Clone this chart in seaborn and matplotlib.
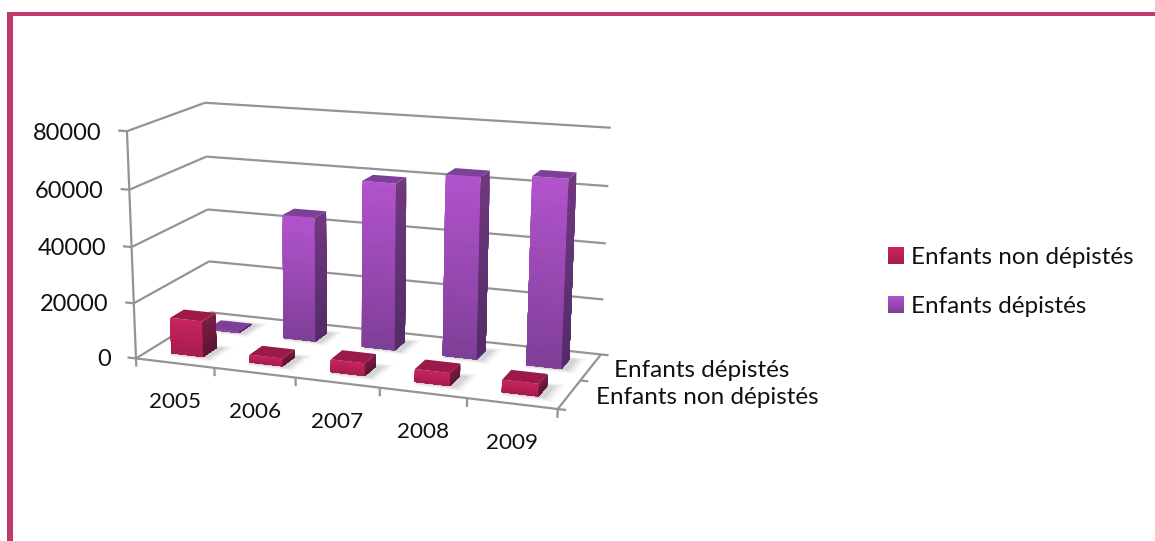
import numpy as np
import matplotlib
matplotlib.use("Agg")
import matplotlib.pyplot as plt
from matplotlib.patches import Patch, Rectangle
from matplotlib.legend_handler import HandlerBase
from mpl_toolkits.mplot3d.art3d import Poly3DCollection, Line3DCollection
import seaborn as sns

# ---- data ----
years = ["2005", "2006", "2007", "2008", "2009"]
series = ["Enfants non dépistés", "Enfants dépistés"]
non_depistes = [13000, 2800, 4500, 4500, 4300]
depistes = [500, 45500, 60000, 64500, 66000]
value_ticks = [0, 20000, 40000, 60000, 80000]

# ---- style ----
FRAME = "#BE3A6E"
GRID = "#949494"
TEXT = "#111111"
FONT = 17.5
TICK_FONT = 17.0
YEAR_FONT = 16.2
STYLES = {
    0: dict(front=("#C8245F", "#A81C4E"), side=("#7E1C45", "#5C1433"), top="#9C1A4A"),
    1: dict(front=("#B153CC", "#7F3F98"), side=("#70387F", "#542B68"), top="#7D3F97"),
}
BAR_W, BAR_D = 0.41, 0.36
BANDS = 30
LABEL_DX = [27, 23]

sns.set_theme(style="white")
plt.rcParams["font.family"] = ["Lato", "DejaVu Sans"]

W, H = 1155, 541
fig = plt.figure(figsize=(W / 100, H / 100), dpi=100, facecolor="white")
ax = fig.add_axes([0, 0, 1, 1], projection="3d", computed_zorder=False)
ax.set_axis_off()
ax.apply_aspect = lambda position=None: None

# ---- camera: projective map of the chart box, fitted to where its corners sit ----
box_x, box_y, box_z = len(years), len(series), value_ticks[-1]
anchors = [
    ((0, 0, 0), (136, 358)), ((0, 0, 1), (127, 131)),
    ((0, 1, 0), (211, 313)), ((0, 1, 1), (205, 103)),
    ((1, 1, 0), (602, 354)), ((1, 1, 1), (611, 128)),
    ((1, 0, 0), (559, 409)), ((0.2, 0, 0), (214, 368)),
    ((0.8, 0, 0), (467, 399)), ((1, 0.5, 0), (578, 380)),
    ((0, 0, 0.5), (132, 247)), ((0, 1, 0.5), (207, 209)),
]
rows = []
for (a, b, c), (u, v) in anchors:
    rows.append([a, b, c, 1, 0, 0, 0, 0, -u * a, -u * b, -u * c, -u])
    rows.append([0, 0, 0, 0, a, b, c, 1, -v * a, -v * b, -v * c, -v])
P = np.linalg.svd(np.array(rows, float))[2][-1].reshape(3, 4)
P = P @ np.diag([1 / box_x, 1 / box_y, 1 / box_z, 1])
if P[2, 3] < 0:
    P = -P
M = np.vstack([P[0], P[1], [0, 1 / box_y, 0, 0], P[2]])
ax.get_proj = lambda: M


def pixel(x, y, z):
    p = P @ np.array([x, y, z, 1.0])
    return p[0] / p[2], p[1] / p[2]


# ---- walls, floor, ticks ----
segments = []
for v in value_ticks:
    if v > 0:
        segments.append([(0, 0, v), (0, box_y, v)])
        segments.append([(0, box_y, v), (box_x, box_y, v)])
    segments.append([(-0.11, 0, v), (0, 0, v)])
segments += [
    [(0, box_y, 0), (box_x, box_y, 0)],
    [(0, 0, 0), (0, box_y, 0)],
    [(0, 0, 0), (0, 0, box_z)],
    [(0, 0, 0), (box_x, 0, 0)],
    [(box_x, 0, 0), (box_x, box_y, 0)],
]
segments += [[(i, 0, 0), (i, 0, -3000)] for i in range(box_x + 1)]
segments += [[(box_x, j, 0), (box_x + 0.09, j, 0)] for j in range(box_y + 1)]
grid = Line3DCollection(segments, colors=GRID, linewidths=1.6)
ax.add_collection3d(grid)
grid.set_zorder(1)


# ---- bars ----
def face(poly, color, z):
    pc = Poly3DCollection([poly], facecolors=[color], edgecolors="none", linewidths=0)
    ax.add_collection3d(pc)
    pc.set_zorder(z)


def draw_bar(i, j, value, zbase):
    st = STYLES[j]
    x0, x1 = i + 0.5 - BAR_W / 2, i + 0.5 + BAR_W / 2
    y0, y1 = j + 0.5 - BAR_D / 2, j + 0.5 + BAR_D / 2
    # soft shadow on the floor
    for grow, alpha in [(0.12, 0.05), (0.08, 0.08), (0.04, 0.12)]:
        sx0, sx1, sy0, sy1 = x0 + 0.02, x1 + grow + 0.05, y0 - grow, y1 + grow
        face([(sx0, sy0, 0), (sx1, sy0, 0), (sx1, sy1, 0), (sx0, sy1, 0)], (0.3, 0.3, 0.3, alpha), zbase)
    colors_front = sns.blend_palette(st["front"], BANDS)
    colors_side = sns.blend_palette(st["side"], BANDS)
    # each band runs from the floor up to its own level; painted tallest first, no seams
    for k in range(BANDS):
        z1 = value * (1 - k / BANDS)
        face([(x0, y0, 0), (x1, y0, 0), (x1, y0, z1), (x0, y0, z1)], colors_front[k], zbase + 1)
        face([(x1, y0, 0), (x1, y1, 0), (x1, y1, z1), (x1, y0, z1)], colors_side[k], zbase + 1)
    face([(x0, y0, value), (x1, y0, value), (x1, y1, value), (x0, y1, value)], st["top"], zbase + 1)


zb = 5
for j, vals in [(1, depistes), (0, non_depistes)]:
    for i, v in enumerate(vals):
        draw_bar(i, j, v, zb)
        zb += 2

# ---- labels (placed in pixels found through the camera) ----
for v in value_ticks:
    px, py = pixel(-0.11, 0, v)
    ax.text2D(px - 17, py + 2.5, str(v), ha="right", va="center", fontsize=TICK_FONT, color=TEXT,
              transform=ax.transData, zorder=50)
for i, y in enumerate(years):
    px, py = pixel(i + 0.5, 0, 0)
    ax.text2D(px, py + 39, y, ha="center", va="center", fontsize=YEAR_FONT, color=TEXT,
              transform=ax.transData, zorder=50)
for j, s in enumerate(series):
    px, py = pixel(box_x, j + 0.5, 0)
    ax.text2D(px + LABEL_DX[j], py + 3, s, ha="left", va="center", fontsize=FONT, color=TEXT,
              transform=ax.transData, zorder=50)


# ---- legend with gradient swatches ----
class GradientHandler(HandlerBase):
    def create_artists(self, legend, orig, xd, yd, width, height, fontsize, trans):
        cols = sns.blend_palette([orig.get_facecolor()[:3], orig.get_edgecolor()[:3]], 16)
        out = []
        for k, c in enumerate(cols):
            out.append(Rectangle((-xd, -yd + height * (1 - (k + 1) / 16)), width, height / 16 + 0.1,
                                 facecolor=c, edgecolor="none", transform=trans))
        return out


handles = [Patch(facecolor=STYLES[j]["front"][0], edgecolor=STYLES[j]["front"][1], label=series[j]) for j in (0, 1)]
fig.legend(handles=handles, handler_map={Patch: GradientHandler()}, loc="upper left",
           bbox_to_anchor=(888 / W, 1 - 247 / H), borderaxespad=0, borderpad=0, frameon=False,
           fontsize=FONT, handlelength=0.66, handleheight=0.66, handletextpad=0.3,
           labelspacing=1.16, labelcolor=TEXT)

# ---- frame ----
fig.add_artist(Rectangle((7 / W, 0), 5.5 / W, 1 - 12 / H, transform=fig.transFigure, facecolor=FRAME, edgecolor="none"))
fig.add_artist(Rectangle((7 / W, 1 - 15.5 / H), 1 - 7 / W, 3.5 / H, transform=fig.transFigure, facecolor=FRAME, edgecolor="none"))

ax.viewLim.intervalx = (0, W)
ax.viewLim.intervaly = (H, 0)
fig.savefig("out.png", dpi=100)
